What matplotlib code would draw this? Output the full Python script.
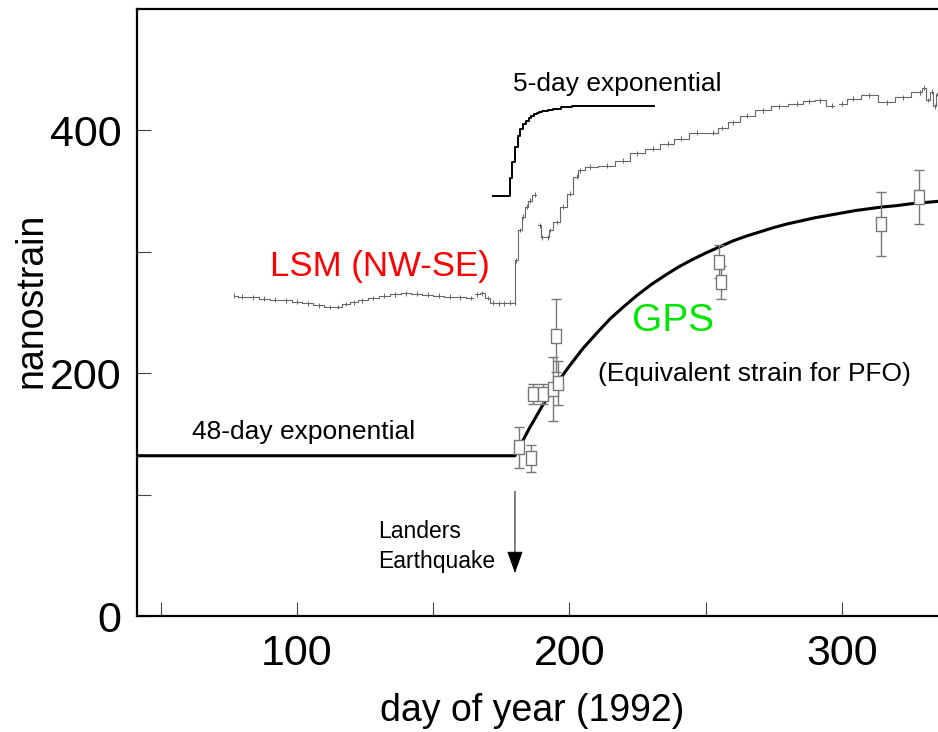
import numpy as np
import matplotlib
matplotlib.use("Agg")
import matplotlib.pyplot as plt

plt.rcParams['font.family'] = ['Liberation Sans', 'DejaVu Sans']

nan = np.nan
quake_day = 180

# laser strainmeter record, gaps marked with nan
lsm_days = [77, 80, 84, 88, 92, 96, 100, 104, 108, 112, 115, 118, 121, 124, 128,
            132, 136, 140, 144, 148, 152, 156, 160, 164, 165, 166, 168, 170, 172,
            174, 176, 178, 180, 180.3, 181.8, 183, 184.3, 185.5, 187.3, 188,
            189.2, 190, 192.2, 192.8, 195.3, 197.7, 200.2, 202.6, 203.9, 207.5,
            213.7, 219.6, 224.8, 230.6, 236, 241, 246.8, 252.7, 256, 260, 265,
            271, 277, 283.5, 288, 292, 296.5, 298, 300, 304, 310, 316.4, 322.4,
            328.6, 330, 331.5, 333, 334, 335]
lsm_vals = [264, 263, 262.5, 261.5, 260.5, 260, 259, 257.5, 256, 254.5, 254.5,
            257, 258.5, 260, 262, 264, 265, 266, 265.5, 264.5, 264, 263, 262.5,
            262, nan, 265, 266, 262, 258, 257.5, 257.5, 258, 258, 293, 318, 329,
            337, 342, 347, nan, 322, 312, 312, 318, 324.5, 337, 348, 362, 367,
            370, 371, 375, 381, 385, 389, 393, 398, 398, 402, 406.6, 412, 416.5,
            420, 422, 424, 424.7, 420.5, nan, 422, 426, 428.8, 423.3, 427.4,
            431.5, 435, 425, 432, 420, 430]

# 5-day exponential fit
fast_days = [172, 177, 178, 179, 180, 181, 182, 183, 184, 185, 186, 187, 188,
             189, 190, 192, 194, 197, 201, 204, 231]
fast_vals = [346, 346, 361, 374, 386, 395, 401, 405.5, 408, 410.5, 412, 413.5,
             414.5, 415.5, 416, 417, 418, 419, 420, 420.5, 420.5]

# 48-day exponential fit
slow_days = [40, 180, 185, 190, 195, 200, 205, 210, 215, 220, 225, 230, 235,
             240, 245, 250, 255, 260, 265, 270, 275, 280, 285, 290, 295, 300,
             305, 310, 315, 320, 325, 330, 335, 340]
slow_vals = [132, 132, 153.5, 173, 190.5, 206, 220.5, 233, 245, 255, 264.5,
             273, 280.5, 287.5, 293.5, 299, 304, 309, 313, 316.5, 320, 323,
             325.5, 328, 330, 332, 334, 335.5, 337, 338, 339.5, 340.5, 341.5,
             342]

# GPS equivalent strain with errors
gps_days = [181.5, 185.8, 186.7, 190.4, 194.0, 195.0, 195.9, 255.0, 255.6,
            314.2, 328.4]
gps_vals = [139, 130, 183, 183, 187, 231, 192, 292, 275, 323, 345]
gps_err = [17, 11, 8.5, 8.5, 26.5, 30, 18, 13.5, 13.5, 26.5, 22.5]

fig = plt.figure(figsize=(9.38, 7.32), dpi=100)
ax = fig.add_axes([137 / 938, 116 / 732, 827.6 / 938, 607 / 732])

# strainmeter trace with short reading ticks
ax.plot(lsm_days, lsm_vals, color='#666666', lw=0.8, drawstyle='steps-mid')
ax.errorbar(lsm_days, lsm_vals, yerr=2, fmt='none', ecolor='#666666',
            elinewidth=0.7)
ax.plot(fast_days, fast_vals, color='black', lw=1.4, drawstyle='steps-post')
ax.plot(slow_days, slow_vals, color='black', lw=2.2)

box = [(-0.7, -1), (0.7, -1), (0.7, 1), (-0.7, 1), (-0.7, -1)]
ax.errorbar(gps_days, gps_vals, yerr=gps_err, fmt='none', ecolor='#777777',
            elinewidth=1.0, capsize=3.5, capthick=1.0)
ax.plot(gps_days, gps_vals, linestyle='none', marker=box, markersize=10,
        markerfacecolor='white', markeredgecolor='#777777', markeredgewidth=1.0)

ax.annotate('', xy=(quake_day, 33), xytext=(quake_day, 105),
            arrowprops=dict(arrowstyle='-|>,head_length=0.7,head_width=0.25',
                            color='black', lw=0.7, mutation_scale=20))

ax.text(179.3, 438, '5-day exponential', fontsize=19, va='center')
ax.text(61.5, 151.4, '48-day exponential', fontsize=19, va='center')
ax.text(90.1, 288, 'LSM (NW-SE)', fontsize=25, color='#ff0000', va='center')
ax.text(222.9, 242.8, 'GPS', fontsize=28, color='#00e600', va='center')
ax.text(210.5, 199, '(Equivalent strain for PFO)', fontsize=19, va='center')
ax.text(129.7, 57, 'Landers\nEarthquake', fontsize=16.5, va='center',
        linespacing=1.4)

ax.set_xlim(41.3, 345)
ax.set_ylim(0, 500)
ax.set_xticks([100, 200, 300])
ax.set_xticks([50, 150, 250], minor=True)
ax.set_yticks([0, 200, 400])
ax.set_yticks([100, 300], minor=True)
ax.tick_params(which='both', direction='in', length=10, width=0.8,
               color='#444444', labelsize=31)
ax.tick_params(axis='x', pad=13)
ax.tick_params(axis='y', pad=11)
for side in ['left', 'bottom', 'top']:
    ax.spines[side].set_linewidth(1.6)
ax.spines['right'].set_visible(False)

ax.set_xlabel('day of year (1992)', fontsize=27)
ax.set_ylabel('nanostrain', fontsize=27)
ax.xaxis.set_label_coords(0.477, -0.127)
ax.yaxis.set_label_coords(-0.106, 0.52)

fig.savefig('out.png', dpi=100)
